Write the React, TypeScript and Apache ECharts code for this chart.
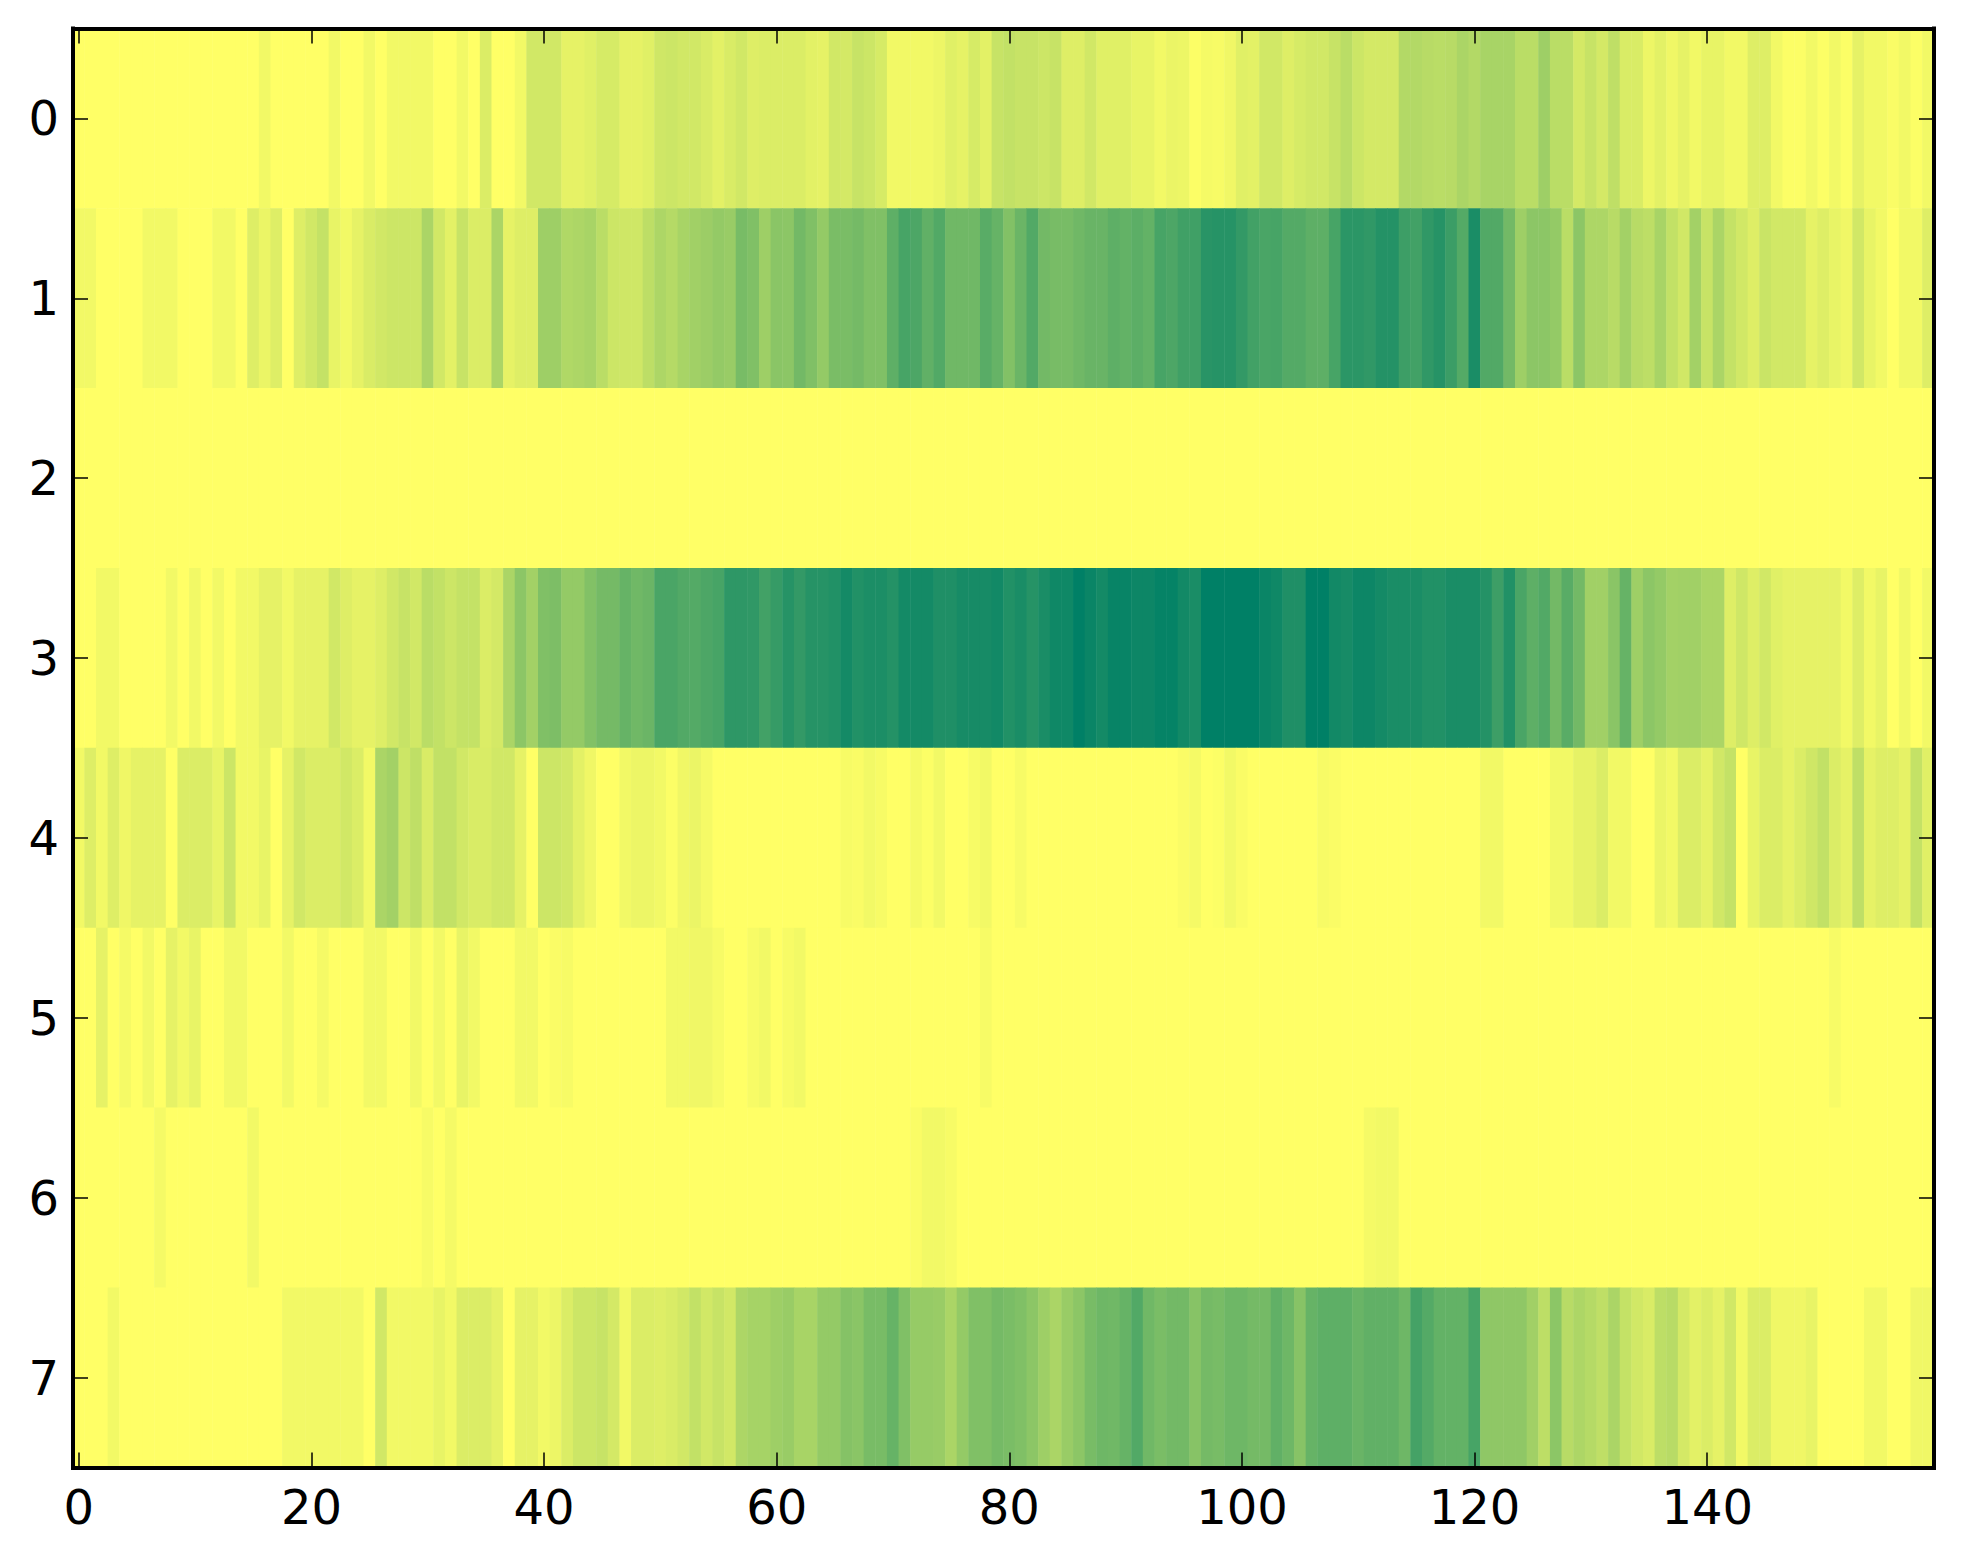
import React, { useEffect, useRef } from "react";
import * as echarts from "echarts";

const xCategories: string[] = Array.from({ length: 160 }, (_, i) => String(i));
const yCategories = ["0", "1", "2", "3", "4", "5", "6", "7"];

const row0 = [
  0,0,0,0,0,0,0,0,0,0,
  0,0,0,0,0,0,5,0,0,0,
  0,0,5,0,0,5,0,5,5,5,
  5,0,0,5,0,14,0,0,5,18,
  18,18,10,10,12,16,16,10,10,12,
  19,20,18,18,15,11,15,18,13,14,
  14,14,14,11,10,18,17,22,20,16,
  5,5,5,5,7,12,10,16,11,22,
  24,22,22,20,22,13,13,18,12,12,
  12,9,9,5,8,7,1,4,3,6,
  12,11,18,18,13,16,18,18,22,27,
  20,17,17,17,30,30,28,27,28,33,
  30,34,34,34,27,27,38,27,27,17,
  22,17,25,15,15,7,11,6,10,5,
  9,9,5,5,13,13,5,1,1,5,
  1,5,1,10,5,5,2,5,1,5,
];
const row1 = [
  5,5,0,0,0,0,5,5,5,0,
  0,0,5,5,0,13,8,13,0,13,
  18,23,9,5,10,15,18,20,20,20,
  33,18,11,22,14,14,33,10,13,13,
  38,38,31,32,34,27,20,19,19,26,
  32,29,34,37,39,42,40,53,50,38,
  46,45,55,50,42,52,52,54,50,50,
  63,72,70,62,68,56,56,56,65,60,
  49,58,68,55,53,53,56,59,59,63,
  61,64,61,72,70,75,75,84,85,85,
  80,74,71,72,67,67,63,63,72,83,
  83,81,86,86,76,74,81,85,77,67,
  90,68,68,55,38,45,45,42,27,45,
  32,32,28,36,28,26,34,24,18,36,
  22,33,23,18,13,21,18,18,18,10,
  13,9,6,18,9,5,0,5,5,13,
];
const row2 = [
  0,0,0,0,0,0,0,0,0,0, 0,0,0,0,0,0,0,0,0,0,
  0,0,0,0,0,0,0,0,0,0, 0,0,0,0,0,0,0,0,0,0,
  0,0,0,0,0,0,0,0,0,0, 0,0,0,0,0,0,0,0,0,0,
  0,0,0,0,0,0,0,0,0,0, 0,0,0,0,0,0,0,0,0,0,
  0,0,0,0,0,0,0,0,0,0, 0,0,0,0,0,0,0,0,0,0,
  0,0,0,0,0,0,0,0,0,0, 0,0,0,0,0,0,0,0,0,0,
  0,0,0,0,0,0,0,0,0,0, 0,0,0,0,0,0,0,0,0,0,
  0,0,0,0,0,0,0,0,0,0, 0,0,0,0,0,0,0,0,0,0,
];
const row3 = [
  0,0,5,5,0,0,0,0,5,0,
  5,0,5,0,5,5,10,10,5,10,
  10,10,18,13,10,10,13,18,22,18,
  27,24,20,23,23,14,17,33,45,36,
  50,51,42,42,49,54,54,60,56,58,
  71,71,68,67,70,72,82,82,81,74,
  79,85,80,85,85,87,92,87,89,89,
  86,92,92,92,88,88,91,91,91,93,
  87,90,85,90,94,94,100,96,92,97,
  97,95,95,98,98,93,90,100,100,100,
  100,100,96,94,88,88,100,100,93,91,
  95,95,92,90,90,90,87,87,90,90,
  90,86,76,87,71,63,68,55,65,55,
  37,37,46,60,38,45,42,36,37,37,
  33,33,13,19,13,18,12,10,10,10,
  10,10,5,13,5,9,0,5,0,5,
];
const row4 = [
  5,13,5,13,6,10,10,10,0,14,
  14,14,9,20,5,5,9,0,10,18,
  14,14,14,18,14,5,33,36,20,25,
  15,24,24,18,15,15,18,18,10,0,
  20,20,18,11,6,0,0,5,7,7,
  5,1,6,8,4,0,0,0,0,0,
  0,0,0,0,0,0,3,2,5,3,
  0,0,4,1,5,0,0,3,5,0,
  0,3,0,0,0,0,0,0,0,0,
  0,0,0,0,0,2,4,0,1,5,
  2,0,0,0,0,0,0,3,2,0,
  0,0,0,0,0,0,0,0,0,0,
  0,5,5,0,0,0,0,5,5,10,
  10,14,5,5,0,0,8,5,14,14,
  10,18,23,0,9,14,14,10,14,19,
  24,14,10,25,10,13,13,10,23,12,
];
const row5 = [
  0,0,10,0,4,0,5,0,10,5,
  9,0,0,5,5,0,0,0,5,0,
  0,4,0,0,0,5,5,0,0,5,
  0,5,0,9,5,0,0,0,5,5,
  0,2,3,0,0,0,0,0,0,0,
  0,5,5,6,6,3,0,0,3,5,
  0,3,5,0,0,0,0,0,0,0,
  0,0,0,0,0,0,0,0,3,0,
  0,0,0,0,0,0,0,0,0,0,
  0,0,0,0,0,0,0,0,0,0,
  0,0,0,0,0,0,0,0,0,0,
  0,0,0,0,0,0,0,0,0,0,
  0,0,0,0,0,0,0,0,0,0,
  0,0,0,0,0,0,0,0,0,0,
  0,0,0,0,0,0,0,0,0,0,
  0,3,0,0,0,0,0,0,0,0,
];
const row6 = [
  0,0,0,0,0,0,0,4,0,0,
  0,0,0,0,0,5,0,0,0,0,
  0,0,0,0,0,0,0,0,0,0,
  3,0,4,0,0,0,0,0,0,0,
  0,0,0,0,0,0,0,0,0,0,
  0,0,0,0,0,0,0,0,0,0,
  0,0,0,0,0,0,0,0,0,0,
  0,0,2,5,5,3,0,0,0,0,
  0,0,0,0,0,0,0,0,0,0,
  0,0,0,0,0,0,0,0,0,0,
  0,0,0,0,0,0,0,0,0,0,
  0,4,5,5,0,0,0,0,0,0,
  0,0,0,0,0,0,0,0,0,0,
  0,0,0,0,0,0,0,0,0,0,
  0,0,0,0,0,0,0,0,0,0,
  0,0,0,0,0,0,0,0,0,0,
];
const row7 = [
  0,0,0,5,0,0,0,0,0,0,
  0,0,0,0,0,0,0,0,5,5,
  5,5,5,5,5,0,18,5,5,5,
  5,9,5,14,14,14,10,0,10,10,
  5,7,14,20,20,22,17,5,14,14,
  13,15,18,24,18,22,18,32,35,35,
  38,40,34,34,42,42,48,46,53,53,
  60,50,41,41,40,33,42,50,50,54,
  52,50,45,38,33,40,45,53,57,56,
  60,68,56,52,55,55,47,54,53,57,
  57,54,54,62,57,47,60,63,63,63,
  59,62,62,62,57,73,67,61,61,61,
  72,44,44,44,44,37,26,45,28,32,
  29,25,33,23,18,15,26,28,17,11,
  14,10,18,5,14,14,6,6,6,9,
  0,0,0,0,5,5,0,0,6,6,
];
const rows = [row0, row1, row2, row3, row4, row5, row6, row7];

export default function App() {
  const ref = useRef<HTMLDivElement>(null);
  useEffect(() => {
    document.body.style.margin = "0";
    document.body.style.background = "#fff";
    const chart = echarts.init(ref.current!, undefined, { renderer: "svg" });
    const cells: number[][] = [];
    rows.forEach((r, y) => r.forEach((v, x) => cells.push([x, y, v])));
    const frame = { show: true, onZero: false, lineStyle: { color: "#000", width: 4, cap: "square" as const } };
    const tick = { show: true, inside: true, length: 15, alignWithLabel: true, lineStyle: { color: "#000", width: 1.5 } };
    const xEvery = (i: number) => i % 20 === 0;
    const label = { fontFamily: "DejaVu Sans", fontSize: 48, color: "#000" };
    chart.setOption({
      animation: false,
      backgroundColor: "#fff",
      grid: { left: 73, right: 29, top: 28.5, bottom: 96.5, containLabel: false },
      visualMap: {
        show: false, min: 0, max: 100, seriesIndex: 0, dimension: 2,
        inRange: { color: ["#ffff66", "#008066"] },
      },
      xAxis: [
        {
          type: "category", data: xCategories, position: "bottom", z: 5,
          axisLine: frame, axisTick: { ...tick, interval: xEvery },
          axisLabel: { ...label, interval: xEvery, margin: 15, hideOverlap: false },
          splitLine: { show: false }, splitArea: { show: false },
        },
        {
          type: "category", data: xCategories, position: "top", z: 5,
          axisLine: frame, axisTick: { ...tick, interval: xEvery },
          axisLabel: { show: false }, splitLine: { show: false },
        },
      ],
      yAxis: [
        {
          type: "category", data: yCategories, position: "left", inverse: true, z: 5,
          axisLine: frame, axisTick: { ...tick, interval: 0 },
          axisLabel: { ...label, interval: 0, margin: 14 },
          splitLine: { show: false }, splitArea: { show: false },
        },
        {
          type: "category", data: yCategories, position: "right", inverse: true, z: 5,
          axisLine: frame, axisTick: { ...tick, interval: 0 },
          axisLabel: { show: false }, splitLine: { show: false },
        },
      ],
      series: [
        {
          type: "heatmap", data: cells, xAxisIndex: 0, yAxisIndex: 0,
          progressive: 0, emphasis: { disabled: true },
          itemStyle: { borderWidth: 0 },
        },
      ],
    });
    return () => chart.dispose();
  }, []);
  return <div ref={ref} style={{ position: "absolute", left: 0, top: 0, width: 1963, height: 1564 }} />;
}
